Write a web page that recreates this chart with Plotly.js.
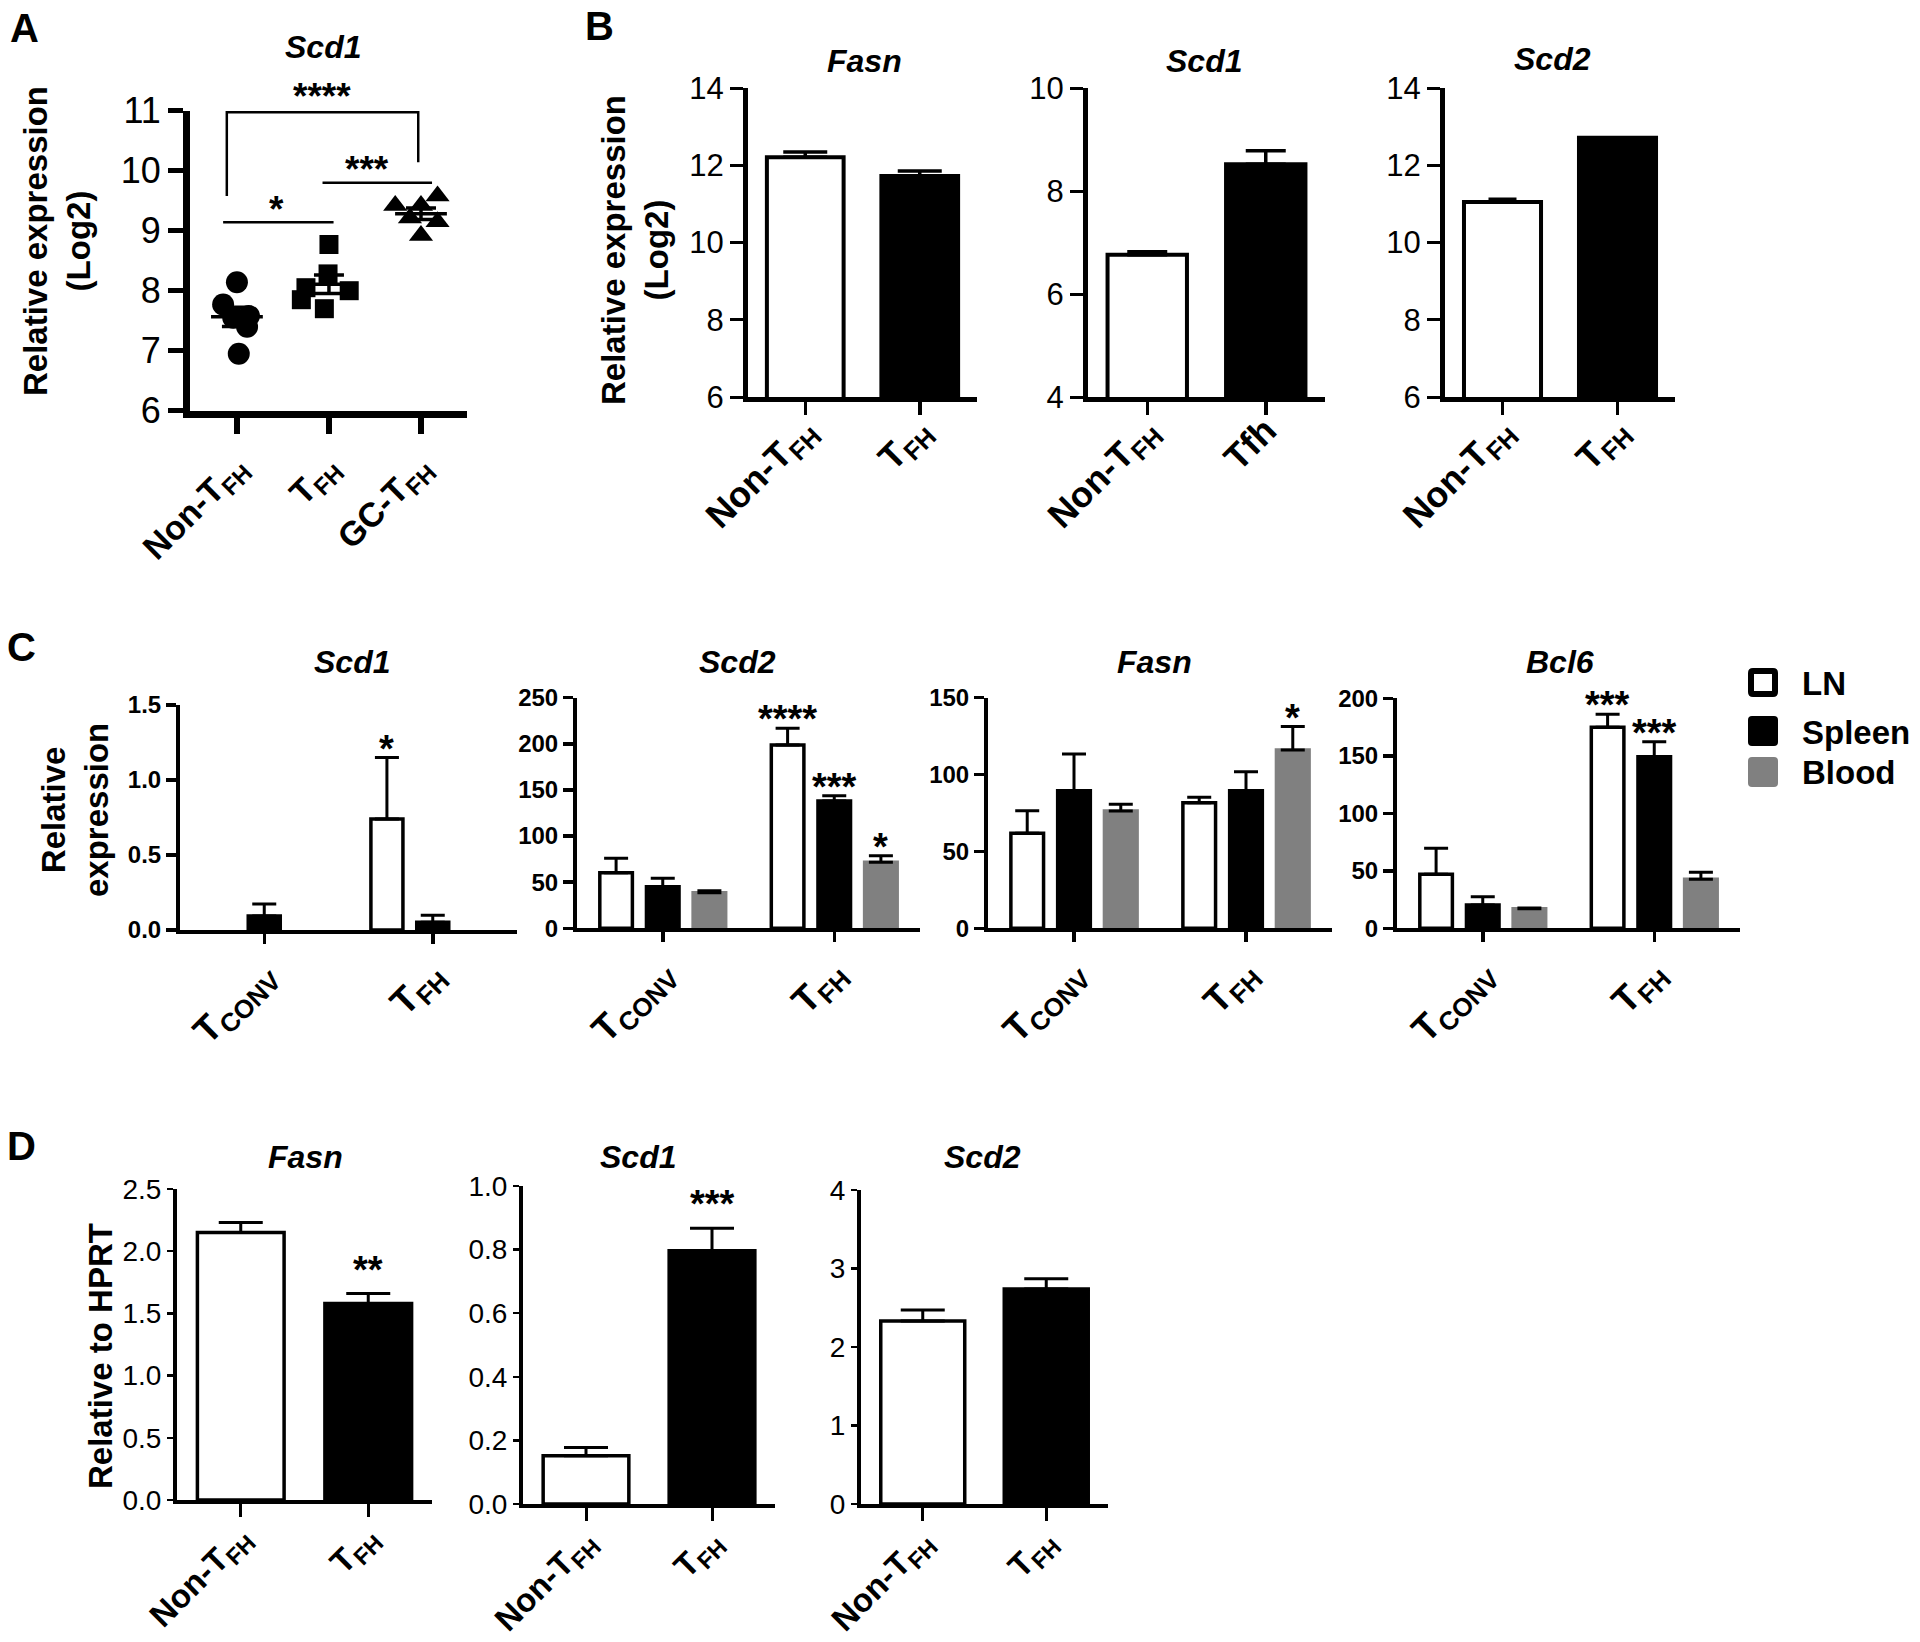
<!DOCTYPE html>
<html><head><meta charset="utf-8">
<script src="https://cdn.plot.ly/plotly-3.0.1.min.js"></script>
<style>html,body{margin:0;padding:0;background:#fff;}#chart{width:1920px;height:1642px;}</style>
</head><body><div id="chart"></div>
<script>
// ================= DATA =================
// Panel A: Scd1 (Log2) individual mice
const aCategories = ["Non-T<sub>FH</sub>", "T<sub>FH</sub>", "GC-T<sub>FH</sub>"];
const aNonTfh = [8.14, 7.77, 7.55, 7.58, 7.40, 6.95];
const aTfh    = [8.77, 8.28, 8.05, 8.00, 7.85, 7.70];
const aGcTfh  = [9.58, 9.42, 9.42, 9.21, 9.15, 8.92];
const aSigText = ["*", "***", "****"];

// Panel B: microarray (Log2)
const bCategories = ["Non-T<sub>FH</sub>", "T<sub>FH</sub>"];
const bScd1Categories = ["Non-T<sub>FH</sub>", "Tfh"];
const bFasn = [12.21, 11.72];  const bFasnSem = [0.13, 0.13];
const bScd1 = [6.76, 8.52];    const bScd1Sem = [0.06, 0.26];
const bScd2 = [11.05, 12.71];  const bScd2Sem = [0.07, 0.00];

// Panel C: qPCR by tissue
const cCategories = ["T<sub>CONV</sub>", "T<sub>FH</sub>"];
const cTissues = ["LN", "Spleen", "Blood"];
const cScd1LN = [0.00, 0.74];      const cScd1LNSem = [0.00, 0.41];
const cScd1Spleen = [0.093, 0.051]; const cScd1SpleenSem = [0.08, 0.047];
const cScd1Blood = [0.00, 0.00];   const cScd1BloodSem = [0.00, 0.00];
const cScd2LN = [60.3, 198.7];     const cScd2LNSem = [15.6, 18.1];
const cScd2Spleen = [45.1, 138.0]; const cScd2SpleenSem = [9.1, 5.8];
const cScd2Blood = [38.6, 71.5];   const cScd2BloodSem = [2.2, 7.2];
const cFasnLN = [61.8, 81.7];      const cFasnLNSem = [14.7, 3.5];
const cFasnSpleen = [89.5, 89.5];  const cFasnSpleenSem = [23.9, 12.4];
const cFasnBlood = [76.3, 116.0];  const cFasnBloodSem = [4.4, 15.2];
const cBcl6LN = [47.0, 174.8];     const cBcl6LNSem = [22.6, 11.3];
const cBcl6Spleen = [20.3, 149.2]; const cBcl6SpleenSem = [7.2, 13.1];
const cBcl6Blood = [17.1, 42.6];   const cBcl6BloodSem = [0.6, 6.1];
const cSigGene   = ["Scd1", "Scd2", "Scd2", "Scd2", "Fasn", "Bcl6", "Bcl6"];
const cSigTissue = ["LN", "LN", "Spleen", "Blood", "Blood", "LN", "Spleen"];
const cSigCat    = [1, 1, 1, 1, 1, 1, 1];
const cSigText   = ["*", "****", "***", "*", "*", "***", "***"];

// Panel D: relative to HPRT
const dCategories = ["Non-T<sub>FH</sub>", "T<sub>FH</sub>"];
const dFasn = [2.15, 1.58];    const dFasnSem = [0.08, 0.08];
const dScd1 = [0.152, 0.796];  const dScd1Sem = [0.026, 0.071];
const dScd2 = [2.33, 2.74];    const dScd2Sem = [0.14, 0.13];
const dFasnSig = ["", "**"];
const dScd1Sig = ["", "***"];
const dScd2Sig = ["", ""];

// ================= LAYOUT HELPERS =================
const W = 1920, H = 1642;
const fx = v => v / W;
const fy = v => 1 - v / H;
const SANS = "'Liberation Sans', Arial, Helvetica, sans-serif";
const NARROW = "'Liberation Sans Narrow', 'Arial Narrow', 'Liberation Sans', sans-serif";

function xAx(l, r, anchor, o) {
  return Object.assign({domain: [fx(l), fx(r)], anchor: anchor, showgrid: false, zeroline: false,
    showline: true, linecolor: 'black', ticks: 'outside', tickcolor: 'black', fixedrange: true}, o);
}
function yAx(top, bottom, anchor, o) {
  return Object.assign({domain: [fy(bottom), fy(top)], anchor: anchor, showgrid: false, zeroline: false,
    showline: true, linecolor: 'black', ticks: 'outside', tickcolor: 'black', fixedrange: true}, o);
}
const mean = a => a.reduce((s, v) => s + v, 0) / a.length;
const sem = a => { const m = mean(a); return Math.sqrt(a.reduce((s, v) => s + (v - m) * (v - m), 0) / (a.length - 1)) / Math.sqrt(a.length); };
// an empty (zero) value is not drawn: no bar, no outline, no error bar
const shown = a => a.map(v => (v > 0 ? v : null));
const errArr = a => a.map(v => (v > 0 ? v : NaN));

const layout = {
  width: W, height: H, margin: {l: 0, r: 0, t: 0, b: 0},
  paper_bgcolor: 'white', plot_bgcolor: 'rgba(0,0,0,0)',
  showlegend: false, barmode: 'overlay', hovermode: false,
  font: {family: SANS, color: 'black'},
  annotations: [], shapes: []
};
const traces = [];

// ---------- Panel A ----------
layout.xaxis = xAx(190, 467, 'y', {type: 'linear', range: [-0.51, 2.5], tickvals: [0, 1, 2], ticktext: aCategories,
  tickangle: -45, linewidth: 7, ticklen: 16, tickwidth: 6, tickfont: {family: SANS, size: 34, weight: 'bold', color: 'black'}});
layout.yaxis = yAx(110.7, 410.7, 'x', {range: [6, 11], tick0: 6, dtick: 1, linewidth: 7, ticklen: 15, tickwidth: 5,
  tickfont: {family: SANS, size: 36, color: 'black'}});
const aGroups = [aNonTfh, aTfh, aGcTfh];
const aSymbols = ['circle', 'square', 'triangle-up'];
const aSizes = [22, 19, 21];
const aJitter = [[0, -0.15, -0.04, 0.13, 0.11, 0.02], [0, -0.01, -0.25, 0.22, -0.3, -0.05], [0.18, -0.28, 0, -0.12, 0.18, 0]];
aGroups.forEach((g, k) => {
  traces.push({type: 'scatter', mode: 'markers', xaxis: 'x', yaxis: 'y', x: g.map((v, i) => k + aJitter[k][i]), y: g,
    marker: {symbol: aSymbols[k], size: aSizes[k], color: 'black', line: {width: 0}}, cliponaxis: false});
});
traces.push({type: 'scatter', mode: 'markers', xaxis: 'x', yaxis: 'y', x: [0, 1, 2], y: aGroups.map(mean),
  marker: {symbol: 'line-ew', size: 37, color: 'black', line: {width: 3.5, color: 'black'}},
  error_y: {type: 'data', array: aGroups.map(sem), color: 'black', thickness: 3.5, width: 15}, cliponaxis: false});
// significance brackets
layout.shapes.push({type: 'path', xref: 'x', yref: 'y', path: 'M -0.11,9.58 V 10.975 H 1.97 V 10.14', line: {color: 'black', width: 2.5}});
layout.shapes.push({type: 'line', xref: 'x', yref: 'y', x0: -0.15, x1: 1.05, y0: 9.14, y1: 9.14, line: {color: 'black', width: 2.5}});
layout.shapes.push({type: 'line', xref: 'x', yref: 'y', x0: 0.93, x1: 2.12, y0: 9.80, y1: 9.80, line: {color: 'black', width: 2.5}});
const aSigX = [276, 367, 322], aSigY = [200, 160.7, 87.5];   // pixel centres of the star groups
aSigText.forEach((t, i) => layout.annotations.push({xref: 'paper', yref: 'paper', x: fx(aSigX[i]), y: fy(aSigY[i]), text: t, showarrow: false,
  yanchor: 'middle', xanchor: 'center', yshift: -9, font: {family: SANS, size: 37, weight: 'bold', color: 'black'}}));

// ---------- Panel B ----------
const bPanels = [
  {n: 2, l: 748, r: 977, cats: bCategories, vals: bFasn, sems: bFasnSem, range: [6, 14], cap: 22},
  {n: 3, l: 1088, r: 1325, cats: bScd1Categories, vals: bScd1, sems: bScd1Sem, range: [4, 10], cap: 20},
  {n: 4, l: 1445, r: 1675, cats: bCategories, vals: bScd2, sems: bScd2Sem, range: [6, 14], cap: 14}
];
bPanels.forEach(p => {
  layout['xaxis' + p.n] = xAx(p.l, p.r, 'y' + p.n, {type: 'category', range: [-0.5, 1.5], tickangle: -45, linewidth: 5,
    ticklen: 13, tickwidth: 3.5, ticklabelstandoff: -20, tickfont: {family: SANS, size: 36, weight: 'bold', color: 'black'}});
  layout['yaxis' + p.n] = yAx(88, 397, 'x' + p.n, {range: p.range, dtick: 2, tick0: p.range[0], linewidth: 5, ticklen: 13,
    tickwidth: 3, tickfont: {family: SANS, size: 31, color: 'black'}});
  traces.push({type: 'bar', xaxis: 'x' + p.n, yaxis: 'y' + p.n, x: p.cats, y: p.vals, width: 0.67,
    marker: {color: ['white', 'black'], line: {color: 'black', width: 4}},
    error_y: {type: 'data', symmetric: false, array: errArr(p.sems), arrayminus: [0, 0], color: 'black', thickness: 3.5, width: p.cap}});
});

// ---------- Panel C ----------
const cSeries = {
  Scd1: {LN: [cScd1LN, cScd1LNSem], Spleen: [cScd1Spleen, cScd1SpleenSem], Blood: [cScd1Blood, cScd1BloodSem]},
  Scd2: {LN: [cScd2LN, cScd2LNSem], Spleen: [cScd2Spleen, cScd2SpleenSem], Blood: [cScd2Blood, cScd2BloodSem]},
  Fasn: {LN: [cFasnLN, cFasnLNSem], Spleen: [cFasnSpleen, cFasnSpleenSem], Blood: [cFasnBlood, cFasnBloodSem]},
  Bcl6: {LN: [cBcl6LN, cBcl6LNSem], Spleen: [cBcl6Spleen, cBcl6SpleenSem], Blood: [cBcl6Blood, cBcl6BloodSem]}
};
const cPanels = [
  {gene: 'Scd1', n: 5, l: 180, r: 517, top: 705, bottom: 930, range: [0, 1.5], dtick: 0.5, fmt: '.1f'},
  {gene: 'Scd2', n: 6, l: 577, r: 920, top: 697.7, bottom: 928.3, range: [0, 250], dtick: 50, fmt: ''},
  {gene: 'Fasn', n: 7, l: 988, r: 1332, top: 697.7, bottom: 928.3, range: [0, 150], dtick: 50, fmt: ''},
  {gene: 'Bcl6', n: 8, l: 1397, r: 1740, top: 698.3, bottom: 928.3, range: [0, 200], dtick: 50, fmt: ''}
];
const cSlot = 0.272, cBarW = 0.19;
const cFill = {LN: 'white', Spleen: 'black', Blood: '#808080'};
const cLine = {LN: 'black', Spleen: 'black', Blood: '#808080'};
cPanels.forEach(p => {
  layout['xaxis' + p.n] = xAx(p.l, p.r, 'y' + p.n, {type: 'category', range: [-0.5, 1.5], tickangle: -45, linewidth: 4,
    ticklen: 10, tickwidth: 3.5, ticklabelstandoff: -6, tickfont: {family: SANS, size: 37, weight: 'bold', color: 'black'}});
  layout['yaxis' + p.n] = yAx(p.top, p.bottom, 'x' + p.n, {range: p.range, dtick: p.dtick, tick0: 0, tickformat: p.fmt,
    linewidth: 4, ticklen: 10, tickwidth: 3.5, tickfont: {family: SANS, size: 24, weight: 'bold', color: 'black'}});
  cTissues.forEach((t, k) => {
    const s = cSeries[p.gene][t];
    traces.push({type: 'bar', name: t, xaxis: 'x' + p.n, yaxis: 'y' + p.n, x: cCategories, y: shown(s[0]),
      width: cBarW, offset: (k - 1) * cSlot - cBarW / 2,
      marker: {color: cFill[t], line: {color: cLine[t], width: 3.5}},
      error_y: {type: 'data', symmetric: false, array: errArr(s[1]), arrayminus: [0, 0], color: 'black', thickness: 3, width: 12}});
  });
});
cSigText.forEach((t, i) => {
  const p = cPanels.find(q => q.gene === cSigGene[i]);
  const k = cTissues.indexOf(cSigTissue[i]);
  const s = cSeries[cSigGene[i]][cSigTissue[i]];
  const c = cSigCat[i];
  layout.annotations.push({xref: 'x' + p.n, yref: 'y' + p.n, x: c + (k - 1) * cSlot, y: s[0][c] + s[1][c], text: t,
    showarrow: false, yanchor: 'middle', yshift: 9, font: {family: SANS, size: 38, weight: 'bold', color: 'black'}});
});
// legend (drawn)
function rrect(x0, y0, x1, y1, r) {
  const X = fx, Y = fy;
  return `M ${X(x0 + r)},${Y(y0)} L ${X(x1 - r)},${Y(y0)} Q ${X(x1)},${Y(y0)} ${X(x1)},${Y(y0 + r)} L ${X(x1)},${Y(y1 - r)} Q ${X(x1)},${Y(y1)} ${X(x1 - r)},${Y(y1)} L ${X(x0 + r)},${Y(y1)} Q ${X(x0)},${Y(y1)} ${X(x0)},${Y(y1 - r)} L ${X(x0)},${Y(y0 + r)} Q ${X(x0)},${Y(y0)} ${X(x0 + r)},${Y(y0)} Z`;
}
const legBoxes = [[668, 697], [716, 746], [757, 787]];
cTissues.forEach((t, k) => {
  const b = legBoxes[k];
  if (t === 'LN') {
    layout.shapes.push({type: 'path', xref: 'paper', yref: 'paper', path: rrect(1751, b[0] + 3, 1775, b[1] - 3, 2), fillcolor: 'white', line: {color: 'black', width: 6}});
  } else {
    layout.shapes.push({type: 'path', xref: 'paper', yref: 'paper', path: rrect(1748, b[0], 1778, b[1], 4), fillcolor: cFill[t], line: {color: cFill[t], width: 0}});
  }
  layout.annotations.push({xref: 'paper', yref: 'paper', x: fx(1800), y: fy((b[0] + b[1]) / 2 + 1), xanchor: 'left', yanchor: 'middle',
    text: t, showarrow: false, font: {family: SANS, size: 33, weight: 'bold', color: 'black'}});
});

// ---------- Panel D ----------
const dPanels = [
  {n: 9, l: 177, r: 432, top: 1189, bottom: 1500, vals: dFasn, sems: dFasnSem, sig: dFasnSig, range: [0, 2.5], dtick: 0.5, fmt: '.1f'},
  {n: 10, l: 523, r: 775, top: 1186, bottom: 1504, vals: dScd1, sems: dScd1Sem, sig: dScd1Sig, range: [0, 1], dtick: 0.2, fmt: '.1f'},
  {n: 11, l: 861, r: 1108, top: 1190, bottom: 1504, vals: dScd2, sems: dScd2Sem, sig: dScd2Sig, range: [0, 4], dtick: 1, fmt: ''}
];
dPanels.forEach(p => {
  layout['xaxis' + p.n] = xAx(p.l, p.r, 'y' + p.n, {type: 'category', range: [-0.5, 1.5], tickangle: -45, linewidth: 4,
    ticklen: 13, tickwidth: 3, ticklabelstandoff: -12, tickfont: {family: SANS, size: 33, weight: 'bold', color: 'black'}});
  layout['yaxis' + p.n] = yAx(p.top, p.bottom, 'x' + p.n, {range: p.range, dtick: p.dtick, tick0: 0, tickformat: p.fmt,
    linewidth: 4, ticklen: 6, tickwidth: 2.5, tickfont: {family: NARROW, size: 28, color: 'black'}});
  traces.push({type: 'bar', xaxis: 'x' + p.n, yaxis: 'y' + p.n, x: dCategories, y: p.vals, width: 0.68,
    marker: {color: ['white', 'black'], line: {color: 'black', width: 3.5}},
    error_y: {type: 'data', symmetric: false, array: errArr(p.sems), arrayminus: [0, 0], color: 'black', thickness: 3, width: 22}});
  p.sig.forEach((t, c) => {
    if (!t) return;
    layout.annotations.push({xref: 'x' + p.n, yref: 'y' + p.n, x: c, y: p.vals[c] + p.sems[c], text: t, showarrow: false,
      yanchor: 'middle', yshift: 24, font: {family: SANS, size: 38, weight: 'bold', color: 'black'}});
  });
});

// ---------- Titles, letters, axis titles ----------
function note(x, y, text, size, o) {
  layout.annotations.push(Object.assign({xref: 'paper', yref: 'paper', x: fx(x), y: fy(y), text: text, showarrow: false,
    xanchor: 'center', yanchor: 'middle', font: {family: SANS, size: size, color: 'black', weight: 'bold'}}, o || {}));
}
const italic = {family: SANS, size: 32, color: 'black', weight: 'bold', style: 'italic'};
[[323, 46.5, 'Scd1'], [864, 61, 'Fasn'], [1204, 61, 'Scd1'], [1552, 59, 'Scd2'],
 [352, 662, 'Scd1'], [737, 662, 'Scd2'], [1154, 662, 'Fasn'], [1560, 662, 'Bcl6'],
 [305, 1157, 'Fasn'], [638, 1157, 'Scd1'], [982, 1157, 'Scd2']].forEach(t => note(t[0], t[1], t[2], 32, {font: italic}));
note(8, 28, 'A', 40, {xanchor: 'left'});
note(583, 26, 'B', 40, {xanchor: 'left'});
note(5, 647, 'C', 40, {xanchor: 'left'});
note(5, 1146, 'D', 40, {xanchor: 'left'});
note(57, 241, 'Relative expression<br>(Log2)', 33, {textangle: -90});
note(635, 250, 'Relative expression<br>(Log2)', 33, {textangle: -90});
note(75, 810, 'Relative<br>expression', 33, {textangle: -90});
note(100, 1356, 'Relative to HPRT', 33, {textangle: -90});

Plotly.newPlot('chart', traces, layout, {staticPlot: true, displayModeBar: false});
</script></body></html>
